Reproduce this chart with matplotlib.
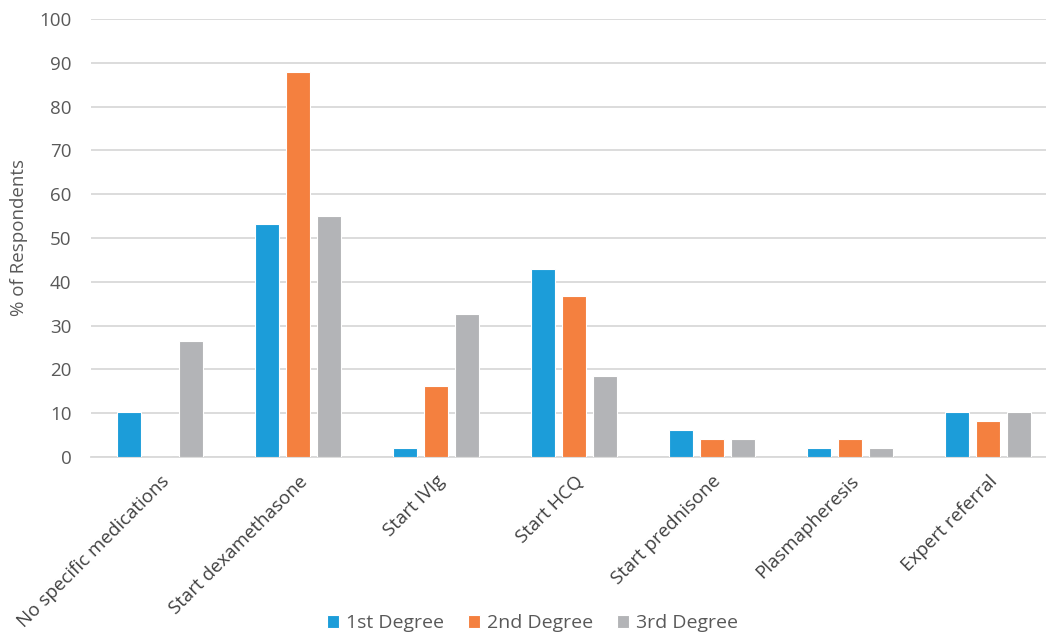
import matplotlib
matplotlib.use("Agg")
import matplotlib.pyplot as plt
import numpy as np

categories = ["No specific medications", "Start dexamethasone", "Start IVIg", "Start HCQ",
              "Start prednisone", "Plasmapheresis", "Expert referral"]
series_names = ["1st Degree", "2nd Degree", "3rd Degree"]
first_degree = [10.2, 53.1, 2.0, 42.9, 6.1, 2.0, 10.2]
second_degree = [0.0, 87.8, 16.3, 36.7, 4.1, 4.1, 8.2]
third_degree = [26.5, 55.1, 32.7, 18.4, 4.1, 2.0, 10.2]
colors = ["#1C9DD9", "#F4803F", "#B3B4B7"]

plt.rcParams['font.family'] = ['Open Sans', 'DejaVu Sans']

fig = plt.figure(figsize=(10.46, 6.36), dpi=100)
ax = fig.add_axes([91/1046, 179/636, (1046-91)/1046, (457-19)/636])

x = np.arange(len(categories))
w = 0.178
off = 0.225
for i, (vals, name, c) in enumerate(zip([first_degree, second_degree, third_degree], series_names, colors)):
    ax.bar(x + (i - 1) * off, vals, width=w, color=c, edgecolor='white', linewidth=0.8, label=name, zorder=3)

ax.set_ylim(0, 100)
ax.set_xlim(-0.5, 6.42)
ax.set_yticks(range(0, 101, 10))
ax.yaxis.grid(True, color='#D9D9D9', linewidth=1.3, zorder=0)
ax.set_axisbelow(True)
for s in ['top', 'right', 'left']:
    ax.spines[s].set_visible(False)
ax.spines['bottom'].set_color('#D9D9D9')
ax.spines['bottom'].set_linewidth(1.3)
ax.tick_params(axis='y', length=0, labelsize=13.5, labelcolor='#595959', pad=14)
ax.tick_params(axis='x', length=0, labelsize=13.5, labelcolor='#404040', pad=11)
ax.set_xticks(x)
ax.set_xticklabels(categories, rotation=45, ha='right', rotation_mode='anchor')
ax.set_ylabel("% of Respondents", fontsize=13.5, color='#595959', labelpad=8)

leg = fig.legend(loc='lower center', bbox_to_anchor=(0.509, -0.022), ncol=3, frameon=False,
                 fontsize=14, handlelength=0.65, handleheight=0.65, handletextpad=0.35,
                 columnspacing=1.2)
for t in leg.get_texts():
    t.set_color('#595959')

fig.savefig("out.png", dpi=100)
